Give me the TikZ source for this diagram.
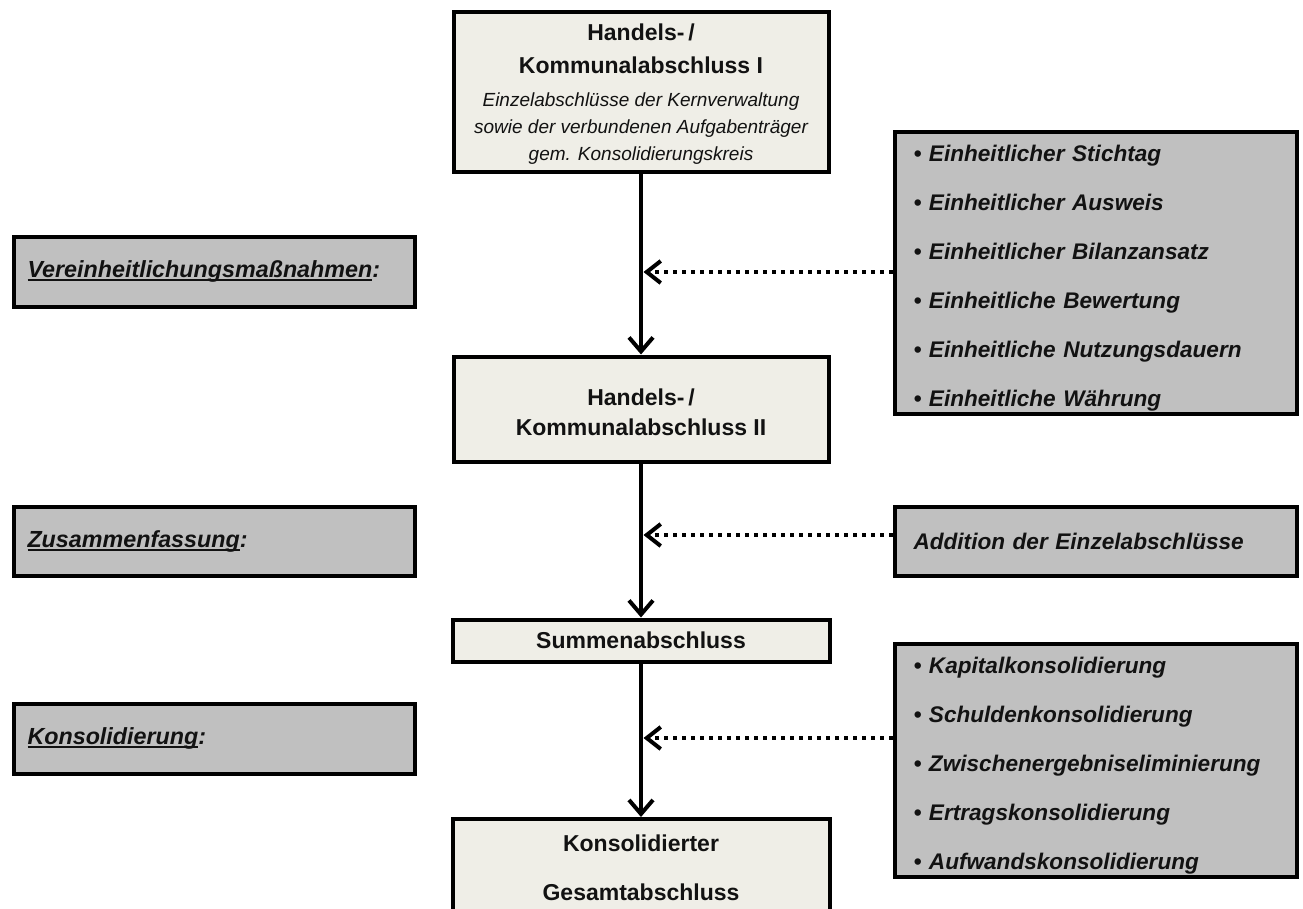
\documentclass[tikz,border=0pt]{standalone}
\usepackage{fontspec}
\setmainfont{Liberation Sans}
\usetikzlibrary{arrows.meta}

\definecolor{paper}{HTML}{EFEEE7}
\definecolor{sidegray}{HTML}{C0C0C0}
\definecolor{ink}{HTML}{121212}

% underline sitting just below the baseline
\newcommand\ulword[1]{\setbox0\hbox{#1}\rlap{\rule[-3.5pt]{\wd0}{1.8pt}}\box0}
% invisible strut that pushes a list down a little inside its box
\newcommand\toppad{\rule{0pt}{27pt}}

\tikzset{
  stagebox/.style={draw=black, line width=4pt, fill=paper, inner sep=0pt,
    align=center, text=ink},
  titlefont/.style={font=\fontsize{23}{33}\selectfont\bfseries},
  sidebox/.style={draw=black, line width=4pt, fill=sidegray, inner ysep=0pt,
    align=left, text=ink, font=\fontsize{22.6}{49}\selectfont\bfseries\itshape},
  stepfont/.style={font=\fontsize{23.3}{30}\selectfont\bfseries\itshape},
  flow/.style={line width=4.5pt, -{Straight Barb[length=14pt,width=24pt,line width=4pt]}},
  feed/.style={line width=4pt, dash pattern=on 4pt off 5pt,
    -{Straight Barb[length=14pt,width=22pt,line width=4pt]}}
}

\begin{document}
\begin{tikzpicture}[x=1pt,y=-1pt]
\useasboundingbox (0,0) rectangle (1303,908);
\clip (0,0) rectangle (1303,908);

% main chain of statements
\node[stagebox, minimum width=375, minimum height=160,
      font=\fontsize{19}{27}\selectfont] (b1) at (641,91.5)
  {{\fontsize{23}{27}\selectfont\bfseries Handels-\,/}\rule{0pt}{21pt}\\[6pt]
   {\fontsize{23}{27}\selectfont\bfseries Kommunalabschluss I}\\[6pt]
   {\itshape Einzelabschlüsse der Kernverwaltung}\\
   {\itshape sowie der verbundenen Aufgabenträger}\\
   {\itshape gem. Konsolidierungskreis}};

\node[stagebox, titlefont, minimum width=375, minimum height=105] (b2) at (641,409)
  {Handels-\,/\rule{0pt}{24pt}\\[-3pt]Kommunalabschluss II};

\node[stagebox, titlefont, minimum width=377, minimum height=42] (b3) at (641,640.5)
  {Summenabschluss};

\node[stagebox, minimum width=377, minimum height=97,
      font=\fontsize{23}{49}\selectfont\bfseries] (b4) at (641,867.5)
  {Konsolidierter\\Gesamtabschluss};

% step labels on the left
\node[sidebox, stepfont, minimum width=401, minimum height=70, text width=373, inner xsep=14] (l1) at (214,271.5)
  {\ulword{Vereinheitlichungsmaßnahmen}:};
\node[sidebox, stepfont, minimum width=401, minimum height=69, text width=373, inner xsep=14] (l2) at (214,541)
  {\ulword{Zusammenfassung}:};
\node[sidebox, stepfont, minimum width=401, minimum height=70, text width=373, inner xsep=14] (l3) at (214,738.5)
  {\ulword{Konsolidierung}:};

% measures on the right
\node[sidebox, minimum width=402, minimum height=282, text width=364, inner xsep=19] (r1) at (1095.5,272.5)
  {\toppad• Einheitlicher Stichtag\\
   • Einheitlicher Ausweis\\
   • Einheitlicher Bilanzansatz\\
   • Einheitliche Bewertung\\
   • Einheitliche Nutzungsdauern\\
   • Einheitliche Währung};
\node[sidebox, minimum width=402, minimum height=69, text width=364, inner xsep=19] (r2) at (1095.5,541)
  {Addition der Einzelabschlüsse};
\node[sidebox, minimum width=402, minimum height=233, text width=364, inner xsep=19] (r3) at (1095.5,760)
  {\toppad• Kapitalkonsolidierung\\
   • Schuldenkonsolidierung\\
   • Zwischenergebniseliminierung\\
   • Ertragskonsolidierung\\
   • Aufwandskonsolidierung};

% junctions on the main flow line
\coordinate (j1) at (643.5,272);
\coordinate (j2) at (643.5,535);
\coordinate (j3) at (643.5,738);

% connectors
\draw[flow] (b1.south) -- (b2.north);
\draw[flow] (b2.south) -- (b3.north);
\draw[flow] (b3.south) -- (b4.north);

\draw[feed] (r1.west |- j1) -- (j1);
\draw[feed] (r2.west |- j2) -- (j2);
\draw[feed] (r3.west |- j3) -- (j3);
\end{tikzpicture}
\end{document}
